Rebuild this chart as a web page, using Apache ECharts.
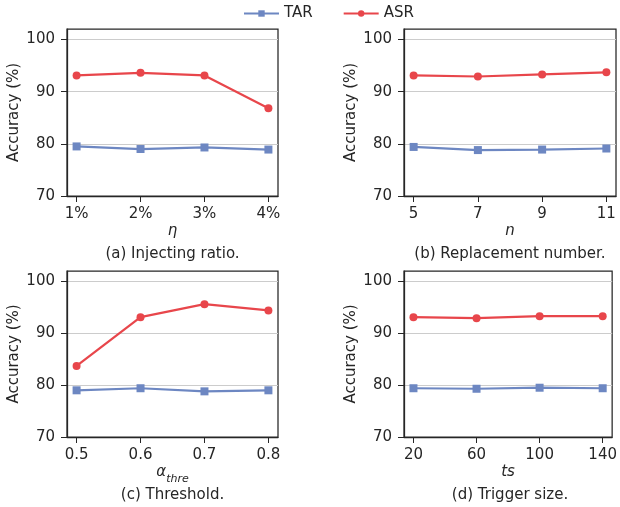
<!DOCTYPE html>
<html>
<head>
<meta charset="utf-8">
<script src="https://cdn.jsdelivr.net/npm/echarts@6/dist/echarts.min.js"></script>
<style>
  html, body { margin: 0; padding: 0; background: #fff; }
  #chart { width: 620px; height: 507px; }
</style>
</head>
<body>
<div id="chart"></div>
<script>
// Tick labels for each sweep (four equally spaced settings per panel)
const etaLabels = ['1%', '2%', '3%', '4%'];
const nLabels = ['5', '7', '9', '11'];
const alphaLabels = ['0.5', '0.6', '0.7', '0.8'];
const tsLabels = ['20', '60', '100', '140'];

// Accuracy (%) per setting
const tarEta = [79.5, 79.0, 79.3, 78.9];
const asrEta = [93.1, 93.6, 93.1, 86.8];
const tarN = [79.4, 78.8, 78.9, 79.1];
const asrN = [93.1, 92.9, 93.3, 93.7];
const tarAlpha = [79.0, 79.4, 78.8, 79.0];
const asrAlpha = [83.7, 93.1, 95.6, 94.4];
const tarTs = [79.4, 79.3, 79.5, 79.4];
const asrTs = [93.1, 92.9, 93.3, 93.3];

const yTicks = [70, 80, 90, 100];
const subtitles = ['(a) Injecting ratio.', '(b) Replacement number.', '(c) Threshold.', '(d) Trigger size.'];

const FONT = 'DejaVu Sans';
const FS = 15;
const INK = '#262626';
const TAR_COLOR = '#6d87c2';
const ASR_COLOR = '#e8464b';

const panels = [
  { labels: etaLabels, tar: tarEta, asr: asrEta, name: 'η', grid: { left: 67, top: 29, width: 211, height: 167 } },
  { labels: nLabels, tar: tarN, asr: asrN, name: 'n', grid: { left: 404, top: 29, width: 212, height: 167 } },
  { labels: alphaLabels, tar: tarAlpha, asr: asrAlpha, name: '{a|α}{s|thre}', grid: { left: 67, top: 271, width: 211, height: 166 } },
  { labels: tsLabels, tar: tarTs, asr: asrTs, name: 'ts', grid: { left: 404, top: 271, width: 212, height: 166 } }
];

const grids = [], xAxes = [], yAxes = [], series = [], titles = [];

panels.forEach((p, k) => {
  grids.push(Object.assign({ show: true, borderColor: INK, borderWidth: 1.25, containLabel: false }, p.grid));
  const idx = p.labels.map((_, i) => i);
  xAxes.push({
    type: 'value', gridIndex: k, min: -0.15, max: idx.length - 1 + 0.15,
    name: p.name, nameLocation: 'middle', nameGap: 28,
    nameTextStyle: {
      fontFamily: FONT, fontSize: FS, color: INK, fontStyle: 'italic',
      rich: {
        a: { fontFamily: FONT, fontSize: FS, fontStyle: 'italic', color: INK },
        s: { fontFamily: FONT, fontSize: 11, fontStyle: 'italic', color: INK, verticalAlign: 'bottom', padding: [0, 0, -5, 0] }
      }
    },
    axisLine: { show: true, onZero: false, lineStyle: { color: INK, width: 1.25 } },
    axisTick: { show: true, customValues: idx, length: 6, lineStyle: { color: INK, width: 1 } },
    axisLabel: { customValues: idx, margin: 11, fontFamily: FONT, fontSize: FS, color: INK,
                 formatter: v => p.labels[Math.round(v)] },
    splitLine: { show: false }
  });
  yAxes.push({
    type: 'value', gridIndex: k, min: 70, max: 102,
    name: 'Accuracy (%)', nameLocation: 'middle', nameGap: 45,
    nameTextStyle: { fontFamily: FONT, fontSize: FS, color: INK },
    axisLine: { show: true, onZero: false, lineStyle: { color: INK, width: 1.25 } },
    axisTick: { show: true, customValues: yTicks, length: 6, lineStyle: { color: INK, width: 1 } },
    axisLabel: { customValues: yTicks, margin: 12, fontFamily: FONT, fontSize: FS, color: INK },
    splitLine: { show: true, lineStyle: { color: '#cccccc', width: 1.2 } }
  });
  series.push({
    name: 'TAR', type: 'line', xAxisIndex: k, yAxisIndex: k,
    data: p.tar.map((v, i) => [i, v]),
    symbol: 'rect', symbolSize: 8, color: TAR_COLOR,
    lineStyle: { color: TAR_COLOR, width: 2.2 }, itemStyle: { color: TAR_COLOR }
  });
  series.push({
    name: 'ASR', type: 'line', xAxisIndex: k, yAxisIndex: k,
    data: p.asr.map((v, i) => [i, v]),
    symbol: 'circle', symbolSize: 8, color: ASR_COLOR,
    lineStyle: { color: ASR_COLOR, width: 2.2 }, itemStyle: { color: ASR_COLOR }
  });
  titles.push({
    text: subtitles[k],
    left: p.grid.left + p.grid.width / 2, textAlign: 'center',
    top: p.grid.top + p.grid.height + 51,
    padding: 0,
    textStyle: { fontFamily: FONT, fontSize: FS, fontWeight: 'normal', color: INK }
  });
});

const chart = echarts.init(document.getElementById('chart'), null, { renderer: 'canvas' });
chart.setOption({
  animation: false,
  backgroundColor: '#ffffff',
  title: titles,
  legend: {
    data: ['TAR', 'ASR'], left: 238, top: 1,
    itemWidth: 35, itemHeight: 8, itemGap: 30,
    textStyle: { fontFamily: FONT, fontSize: FS, color: INK }
  },
  grid: grids,
  xAxis: xAxes,
  yAxis: yAxes,
  series: series
});
</script>
</body>
</html>
